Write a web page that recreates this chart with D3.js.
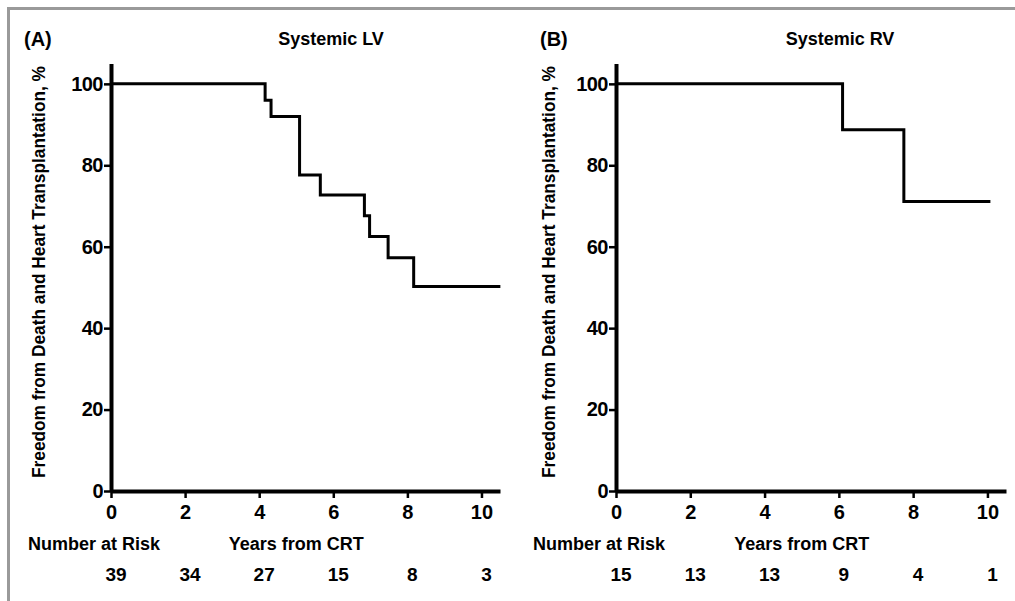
<!DOCTYPE html>
<html>
<head>
  <script src="https://d3js.org/d3.v7.min.js"></script>
  <style>
  body { margin: 0; background: #fff; }
  svg { display: block; font-family: 'Liberation Sans', Arial, sans-serif; font-weight: bold; }
  .axis path, .axis line { stroke: #000; }
  .axis path { stroke-width: 4; }
  .axis line { stroke-width: 2.5; }
  .axis text { font-size: 20px; font-weight: bold; fill: #000; }
  </style>
</head>
<body>
<svg id="chart"></svg>
<script>
// Kaplan-Meier step points (years, % free from death and HTx)
var lvYears = [0, 4.16, 4.32, 5.09, 5.65, 6.84, 6.98, 7.48, 8.17, 10.51];
var lvFree  = [100, 96, 92, 77.6, 72.7, 67.6, 62.5, 57.3, 50.2, 50.2];
var rvYears = [0, 6.1, 7.75, 10.08];
var rvFree  = [100, 88.7, 71.1, 71.1];

var riskYears = [0, 2, 4, 6, 8, 10];
var lvRisk = [39, 34, 27, 15, 8, 3];
var rvRisk = [15, 13, 13, 9, 4, 1];

var xTicks = [0, 2, 4, 6, 8, 10];
var yTicks = [0, 20, 40, 60, 80, 100];

var width = 1015, height = 601;
var svg = d3.select("#chart").attr("width", width).attr("height", height);

// grey frame, only top and left show
svg.append("rect")
  .attr("x", 8.5).attr("y", 8.5)
  .attr("width", 1100).attr("height", 700)
  .attr("fill", "none").attr("stroke", "#9a9a9a").attr("stroke-width", 3);

var panels = [
  { letter: "(A)", title: "Systemic LV", x0: 111, x1: 500, letterX: 24, titleX: 331, labelX: 45,
    years: lvYears, free: lvFree, risk: lvRisk },
  { letter: "(B)", title: "Systemic RV", x0: 616, x1: 1006, letterX: 540, titleX: 840, labelX: 555,
    years: rvYears, free: rvFree, risk: rvRisk }
];

var yTop = 63.5, yZero = 491;

panels.forEach(function(p) {
  var x = d3.scaleLinear().domain([0, 10.5]).range([p.x0, p.x1]);
  var y = d3.scaleLinear().domain([0, 105]).range([yZero, yTop]);

  svg.append("text").attr("x", p.letterX).attr("y", 46)
    .style("font-size", "20px").text(p.letter);
  svg.append("text").attr("x", p.titleX).attr("y", 45)
    .attr("text-anchor", "middle").style("font-size", "18px")
    .text(p.title);

  // y label
  svg.append("text")
    .attr("transform", "translate(" + p.labelX + "," + 272 + ") rotate(-90)")
    .attr("text-anchor", "middle")
    .attr("textLength", 412).attr("lengthAdjust", "spacingAndGlyphs")
    .style("font-size", "19px")
    .text("Freedom from Death and Heart Transplantation, %");

  var xAxis = svg.append("g").attr("class", "axis")
    .attr("transform", "translate(0," + yZero + ")")
    .call(d3.axisBottom(x).tickValues(xTicks).tickSize(7).tickSizeOuter(0).tickPadding(4));
  var yAxis = svg.append("g").attr("class", "axis")
    .attr("transform", "translate(" + p.x0 + ",0)")
    .call(d3.axisLeft(y).tickValues(yTicks).tickSize(7).tickSizeOuter(0).tickPadding(1));
  xAxis.selectAll("text").attr("dy", "0.85em");
  yAxis.selectAll("text").style("letter-spacing", "-0.5px");

  // step curve
  var pts = p.years.map(function(t, i) { return [t, p.free[i]]; });
  var line = d3.line().curve(d3.curveStepAfter)
    .x(function(d) { return x(d[0]); })
    .y(function(d) { return y(d[1]); });
  svg.append("path").datum(pts)
    .attr("d", line)
    .attr("fill", "none").attr("stroke", "#000").attr("stroke-width", 3);

  // risk table
  svg.append("text").attr("x", p.x0 - 83).attr("y", 550)
    .style("font-size", "18px").text("Number at Risk");
  svg.append("text").attr("x", x(5.0)).attr("y", 550)
    .attr("text-anchor", "middle")
    .style("font-size", "18px").text("Years from CRT");
  svg.selectAll(null).data(riskYears).enter().append("text")
    .attr("x", function(d) { return x(d) + 5; })
    .attr("y", 581)
    .attr("text-anchor", "middle")
    .style("font-size", "19px")
    .text(function(d, i) { return p.risk[i]; });
});
</script>
</body>
</html>
